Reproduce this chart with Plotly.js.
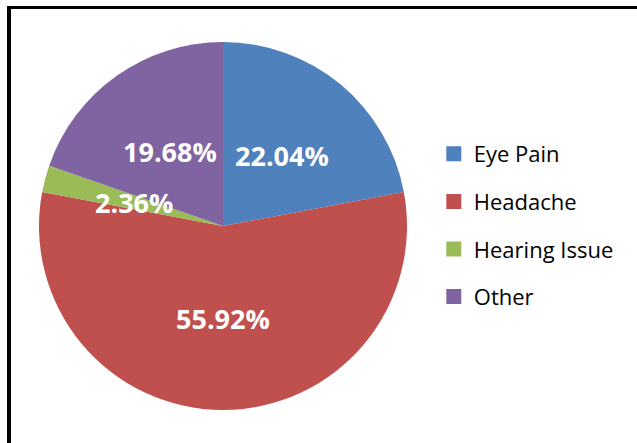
<!DOCTYPE html>
<html>
<head>
<meta charset="utf-8">
<script src="https://cdn.plot.ly/plotly-3.0.1.min.js"></script>
<style>
  html, body { margin: 0; padding: 0; background: #fff; }
  #chart { width: 637px; height: 443px; position: relative; }
  #frame { position: absolute; left: 7px; top: 6px; width: 700px; height: 500px;
           border-top: 3px solid #000; border-left: 4px solid #000; pointer-events: none; }
</style>
</head>
<body>
<div id="chart"></div>
<div id="frame"></div>
<script>
const categories = ["Eye Pain", "Headache", "Hearing Issue", "Other"];
const percentages = [22.04, 55.92, 2.36, 19.68];
const colors = ["#4F81BD", "#C0504D", "#9BBB59", "#8064A2"];

const W = 637, H = 443;
const pieLeft = 39, pieRight = 407, pieTop = 42, pieBottom = 410;
const dom = { x: [pieLeft / W, pieRight / W], y: [(H - pieBottom) / H, (H - pieTop) / H] };

const pieTrace = {
  type: "pie",
  labels: categories,
  values: percentages,
  sort: false,
  direction: "clockwise",
  rotation: 0,
  marker: { colors: colors, line: { width: 0 } },
  textinfo: "none",
  showlegend: false,
  hoverinfo: "label+percent",
  domain: dom
};

// Data labels placed Excel-style: along each slice's mid-angle at half the radius
const total = percentages.reduce((a, b) => a + b, 0);
const cxp = (dom.x[0] + dom.x[1]) / 2, cyp = (dom.y[0] + dom.y[1]) / 2;
const rPx = (pieRight - pieLeft) / 2;
let cum = 0;
const annotations = percentages.map((v) => {
  const mid = (cum + v / 2) / total * 2 * Math.PI;
  cum += v;
  return {
    xref: "paper", yref: "paper",
    x: cxp + 0.5 * rPx * Math.sin(mid) / W,
    y: cyp + 0.5 * rPx * Math.cos(mid) / H,
    xanchor: "center", yanchor: "middle",
    text: v.toFixed(2) + "%",
    showarrow: false,
    font: { family: "Open Sans, sans-serif", size: 27, color: "#ffffff", weight: "bold" }
  };
});

// Legend entries (one per category, separate groups for spacing)
const legendTraces = categories.map((c, i) => ({
  type: "scatter",
  x: [null], y: [null],
  mode: "markers",
  name: c,
  legendgroup: "g" + i,
  marker: { symbol: "square", size: 15, color: colors[i] },
  showlegend: true,
  hoverinfo: "skip"
}));

const layout = {
  width: W, height: H,
  margin: { l: 0, r: 0, t: 0, b: 0 },
  paper_bgcolor: "#ffffff",
  plot_bgcolor: "#ffffff",
  xaxis: { visible: false, domain: [0.99, 1] },
  yaxis: { visible: false, domain: [0.99, 1] },
  annotations: annotations,
  legend: {
    x: 0.681, xanchor: "left",
    y: 0.491, yanchor: "middle",
    font: { family: "Open Sans, sans-serif", size: 22, color: "#000000" },
    tracegroupgap: 16,
    itemwidth: 30
  },
  showlegend: true
};

Plotly.newPlot("chart", [pieTrace].concat(legendTraces), layout, { displayModeBar: false, staticPlot: true });
</script>
</body>
</html>
